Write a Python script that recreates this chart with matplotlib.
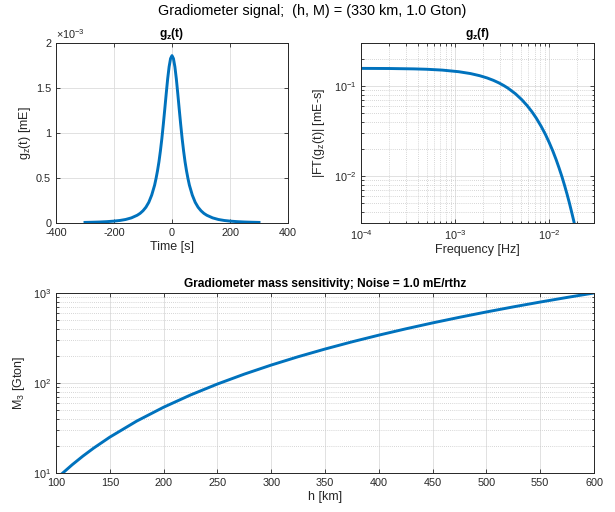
import numpy as np
import matplotlib
matplotlib.use("Agg")
import matplotlib.pyplot as plt
from matplotlib.ticker import FuncFormatter, LogLocator, NullFormatter

plt.rcParams["font.family"] = ["Liberation Sans", "DejaVu Sans"]
plt.rcParams["mathtext.fontset"] = "custom"
plt.rcParams["mathtext.rm"] = "Liberation Sans"
plt.rcParams["mathtext.it"] = "Liberation Sans:italic"
plt.rcParams["mathtext.bf"] = "Liberation Sans:bold"
plt.rcParams["mathtext.default"] = "regular"
plt.rcParams["axes.unicode_minus"] = False

# --- data ---
# time-domain signal g_z(t), mE (peak ~1.86e-3)
time_s = [-300, -275, -250, -225, -200, -180, -160, -140, -120, -110, -100, -90, -80,
          -70, -60, -55, -50, -45, -40, -35, -30, -25, -20, -15, -10, -5, 0,
          5, 10, 15, 20, 25, 30, 35, 40, 45, 50, 55, 60, 70, 80, 90, 100, 110,
          120, 140, 160, 180, 200, 225, 250, 275, 300]
gz_milli = [0.0065, 0.0085, 0.011, 0.015, 0.021, 0.028, 0.039, 0.057, 0.086, 0.107,
            0.136, 0.175, 0.23, 0.31, 0.42, 0.495, 0.58, 0.68, 0.80, 0.937, 1.094,
            1.262, 1.435, 1.60, 1.735, 1.827, 1.86,
            1.827, 1.735, 1.60, 1.435, 1.262, 1.094, 0.937, 0.80, 0.68, 0.58, 0.495,
            0.42, 0.31, 0.23, 0.175, 0.136, 0.107, 0.086, 0.057, 0.039, 0.028, 0.021,
            0.015, 0.011, 0.0085, 0.0065]

# spectrum |FT(g_z)|, mE-s
freq_hz = [1e-4, 2e-4, 3.65e-4, 5e-4, 7.3e-4, 1.095e-3, 1.46e-3, 1.825e-3, 2.19e-3,
           2.556e-3, 2.921e-3, 3.286e-3, 3.651e-3, 4.381e-3, 5.111e-3, 5.841e-3,
           6.572e-3, 7.302e-3, 8.2e-3, 9.127e-3, 1.004e-2, 1.0953e-2, 1.1866e-2,
           1.2778e-2, 1.3691e-2, 1.4604e-2, 1.5517e-2, 1.6429e-2, 1.7342e-2,
           1.8254e-2, 1.935e-2]
ft_mag = [0.1567, 0.1562, 0.1547, 0.1532, 0.1500, 0.1439, 0.1372, 0.1300, 0.1227,
          0.1154, 0.1082, 0.1012, 0.0945, 0.0819, 0.0705, 0.0604, 0.0516, 0.0439,
          0.0358, 0.0290, 0.0234, 0.0189, 0.0152, 0.0122, 0.0098, 0.00783, 0.00626,
          0.00500, 0.00398, 0.00318, 0.00242]

# mass sensitivity vs altitude
h_km = [105, 115, 125, 135, 150, 175, 200, 225, 250, 275, 300, 325, 350, 375,
        400, 425, 450, 475, 500, 525, 550, 575, 600]
m3_gton = [9.69, 12.34, 15.41, 18.91, 25.03, 37.74, 53.81, 73.60, 97.40, 125.5,
           158.2, 195.8, 238.4, 286.5, 340.1, 399.6, 465.3, 537.2, 615.7, 701.1,
           793.4, 893.0, 1000.0]

LINE = "#0072BD"
DARK = "#262626"
TICK_FS = 7.8
LABEL_FS = 9.0
TITLE_FS = 8.6


def style_axes(ax, logx=False, logy=False):
    for sp in ax.spines.values():
        sp.set_color(DARK)
        sp.set_linewidth(0.7)
    ax.tick_params(which="both", direction="in", top=True, right=True,
                   colors=DARK, labelsize=TICK_FS, width=0.6)
    ax.tick_params(which="major", length=3)
    ax.tick_params(which="minor", length=1.8)
    ax.grid(True, which="major", color="#dcdcdc", linewidth=0.6)
    if logx and logy:
        which_axis = "both"
    elif logx:
        which_axis = "x"
    else:
        which_axis = "y"
    if logx or logy:
        ax.grid(True, which="minor", axis=which_axis, color="#c8c8c8",
                linestyle=(0, (1, 1.5)), linewidth=0.6)
    ax.set_axisbelow(True)


fig = plt.figure(figsize=(6.15, 5.12), dpi=100)

fig.text(312 / 615, 1 - 11 / 512, "Gradiometer signal;  (h, M) = (330 km, 1.0 Gton)",
         ha="center", va="center", fontsize=10.4, color="black")

# top-left: time signal
ax1 = fig.add_axes([56 / 615, 1 - 223 / 512, 232 / 615, 180 / 512])
ax1.plot(time_s, np.array(gz_milli) * 1e-3, color=LINE, linewidth=2.1)
ax1.set_xlim(-400, 400)
ax1.set_ylim(0, 2e-3)
ax1.set_xticks([-400, -200, 0, 200, 400])
ax1.set_yticks([0, 0.5e-3, 1e-3, 1.5e-3, 2e-3])
ax1.yaxis.set_major_formatter(FuncFormatter(lambda v, p: f"{v * 1e3:g}"))
style_axes(ax1)
ax1.set_xlabel("Time [s]", fontsize=LABEL_FS, color=DARK, labelpad=2)
ax1.set_ylabel("g$_z$(t) [mE]", fontsize=LABEL_FS, color=DARK, labelpad=2)
ax1.set_title(r"$\mathbf{g_z(t)}$", fontsize=TITLE_FS, pad=4)
ax1.text(0.0, 1.01, r"$\times10^{-3}$", transform=ax1.transAxes, ha="left", va="bottom",
         fontsize=TICK_FS, color=DARK)

# top-right: spectrum
ax2 = fig.add_axes([361 / 615, 1 - 223 / 512, 233 / 615, 180 / 512])
ax2.loglog(freq_hz, ft_mag, color=LINE, linewidth=2.1)
ax2.set_xlim(1e-4, 0.03)
ax2.set_ylim(0.003, 0.3)
ax2.xaxis.set_minor_locator(LogLocator(base=10, subs=np.arange(2, 10), numticks=20))
ax2.yaxis.set_minor_locator(LogLocator(base=10, subs=np.arange(2, 10), numticks=20))
ax2.xaxis.set_minor_formatter(NullFormatter())
ax2.yaxis.set_minor_formatter(NullFormatter())
style_axes(ax2, logx=True, logy=True)
ax2.set_xlabel("Frequency [Hz]", fontsize=LABEL_FS, color=DARK, labelpad=2)
ax2.set_ylabel("|FT(g$_z$(t)| [mE-s]", fontsize=LABEL_FS, color=DARK, labelpad=5)
ax2.set_title(r"$\mathbf{g_z(f)}$", fontsize=TITLE_FS, pad=4)

# bottom: mass sensitivity
ax3 = fig.add_axes([56 / 615, 1 - 473 / 512, 538 / 615, 180 / 512])
ax3.semilogy(h_km, m3_gton, color=LINE, linewidth=2.1)
ax3.set_xlim(100, 600)
ax3.set_ylim(10, 1000)
ax3.set_xticks(np.arange(100, 601, 50))
ax3.yaxis.set_minor_locator(LogLocator(base=10, subs=np.arange(2, 10), numticks=20))
ax3.yaxis.set_minor_formatter(NullFormatter())
style_axes(ax3, logy=True)
ax3.set_xlabel("h [km]", fontsize=LABEL_FS, color=DARK, labelpad=2)
ax3.set_ylabel("M$_3$ [Gton]", fontsize=LABEL_FS, color=DARK, labelpad=4)
ax3.set_title("Gradiometer mass sensitivity; Noise = 1.0 mE/rthz",
              fontsize=TITLE_FS, fontweight="bold", pad=4)

fig.savefig("out.png", dpi=100)
